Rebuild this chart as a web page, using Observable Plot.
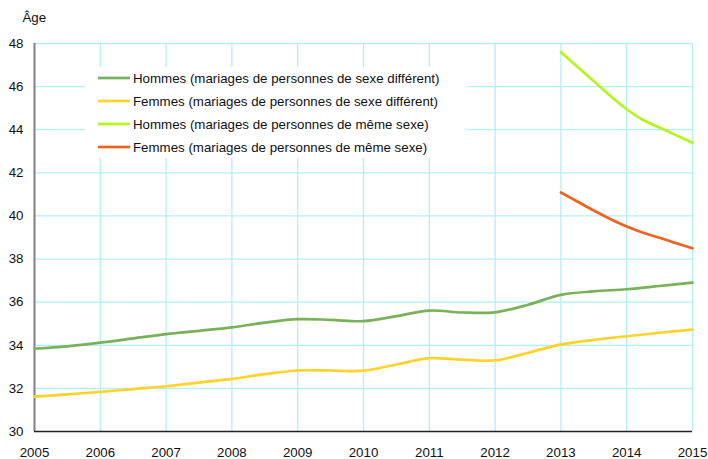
<!DOCTYPE html>
<html>
<head>
<meta charset="utf-8">
<script src="https://cdn.jsdelivr.net/npm/d3@7"></script>
<script src="https://cdn.jsdelivr.net/npm/@observablehq/plot@0.6"></script>
<style>
  html, body { margin: 0; padding: 0; background: #fff; }
  #chart svg { font-family: "Liberation Sans", Arial, sans-serif; }
</style>
</head>
<body>
<div id="chart"></div>
<script>
// Periods
const periodsDiff = [2005, 2005.5, 2006, 2006.5, 2007, 2007.5, 2008, 2008.5, 2009, 2009.5, 2010,
  2010.5, 2011, 2011.5, 2012, 2012.5, 2013, 2013.5, 2014, 2014.5, 2015];
const periodsSame = [2013, 2013.25, 2013.5, 2013.75, 2014, 2014.25, 2014.5, 2014.75, 2015];

// Mean age at marriage
const hommesDiff = [33.84, 33.95, 34.12, 34.32, 34.52, 34.67, 34.83, 35.05, 35.21, 35.18, 35.12,
  35.35, 35.61, 35.52, 35.53, 35.88, 36.34, 36.5, 36.6, 36.75, 36.91];
const femmesDiff = [31.62, 31.72, 31.84, 31.97, 32.1, 32.27, 32.44, 32.66, 32.83, 32.83, 32.82,
  33.11, 33.4, 33.33, 33.3, 33.65, 34.04, 34.25, 34.42, 34.58, 34.73];
const hommesSame = [47.6, 46.92, 46.25, 45.57, 44.95, 44.45, 44.1, 43.75, 43.4];
const femmesSame = [41.09, 40.67, 40.25, 39.86, 39.51, 39.22, 38.99, 38.74, 38.5];

const seriesNames = [
  "Hommes (mariages de personnes de sexe différent)",
  "Femmes (mariages de personnes de sexe différent)",
  "Hommes (mariages de personnes de même sexe)",
  "Femmes (mariages de personnes de même sexe)"
];
const seriesColors = ["#79b15a", "#ffd32a", "#b5f51e", "#f0621e"];

const xTicks = [2005, 2006, 2007, 2008, 2009, 2010, 2011, 2012, 2013, 2014, 2015];
const yTicks = [30, 32, 34, 36, 38, 40, 42, 44, 46, 48];

const rows = [];
periodsDiff.forEach((p, i) => {
  rows.push({x: p, y: hommesDiff[i], s: seriesNames[0]});
  rows.push({x: p, y: femmesDiff[i], s: seriesNames[1]});
});
periodsSame.forEach((p, i) => {
  rows.push({x: p, y: hommesSame[i], s: seriesNames[2]});
  rows.push({x: p, y: femmesSame[i], s: seriesNames[3]});
});

const gridColor = "#b3eff7";
const fs = 13.3;

const chart = Plot.plot({
  width: 708,
  height: 459,
  marginLeft: 34,
  marginRight: 16,
  marginTop: 43,
  marginBottom: 28,
  style: {fontFamily: "'Liberation Sans', Arial, sans-serif", fontSize: fs + "px", color: "#111", background: "#fff"},
  x: {domain: [2005, 2015], ticks: xTicks, tickFormat: "d", label: null},
  y: {domain: [30, 48], ticks: yTicks, label: null},
  color: {domain: seriesNames, range: seriesColors},
  marks: [
    Plot.gridX(xTicks.filter(d => d > 2005), {stroke: gridColor, strokeOpacity: 1, strokeWidth: 1.3}),
    Plot.gridY(yTicks.filter(d => d > 30), {stroke: gridColor, strokeOpacity: 1, strokeWidth: 1.3}),
    Plot.axisX(xTicks, {tickSize: 0, tickPadding: 16, fontSize: fs, label: null, tickFormat: "d"}),
    Plot.axisY(yTicks, {tickSize: 0, tickPadding: 11, fontSize: fs, label: null}),
    Plot.ruleX([2005], {stroke: "#808080", strokeWidth: 2}),
    Plot.ruleY([30], {stroke: "#222", strokeWidth: 1.3}),
    Plot.lineY(rows, {x: "x", y: "y", z: "s", stroke: "s", strokeWidth: 2.7, curve: "catmull-rom"}),
    Plot.text(["Âge"], {frameAnchor: "top-left", dx: -12, dy: -31, fontSize: fs, textAnchor: "start", fill: "#111"})
  ]
});

document.getElementById("chart").appendChild(chart);

// Legend box drawn inside the SVG
const svg = d3.select(chart);
const lg = svg.append("g").attr("class", "legend")
  .attr("text-anchor", "start").attr("font-size", fs);
lg.append("rect").attr("x", 85).attr("y", 67).attr("width", 383).attr("height", 91).attr("fill", "#fff");
seriesNames.forEach((name, i) => {
  const yy = 78 + i * 23;
  lg.append("line").attr("x1", 98).attr("x2", 130).attr("y1", yy).attr("y2", yy)
    .attr("stroke", seriesColors[i]).attr("stroke-width", 2.7);
  lg.append("text").attr("x", 133).attr("y", yy).attr("dy", "0.36em")
    .attr("text-anchor", "start").attr("font-size", fs).attr("fill", "#111").text(name);
});
</script>
</body>
</html>
